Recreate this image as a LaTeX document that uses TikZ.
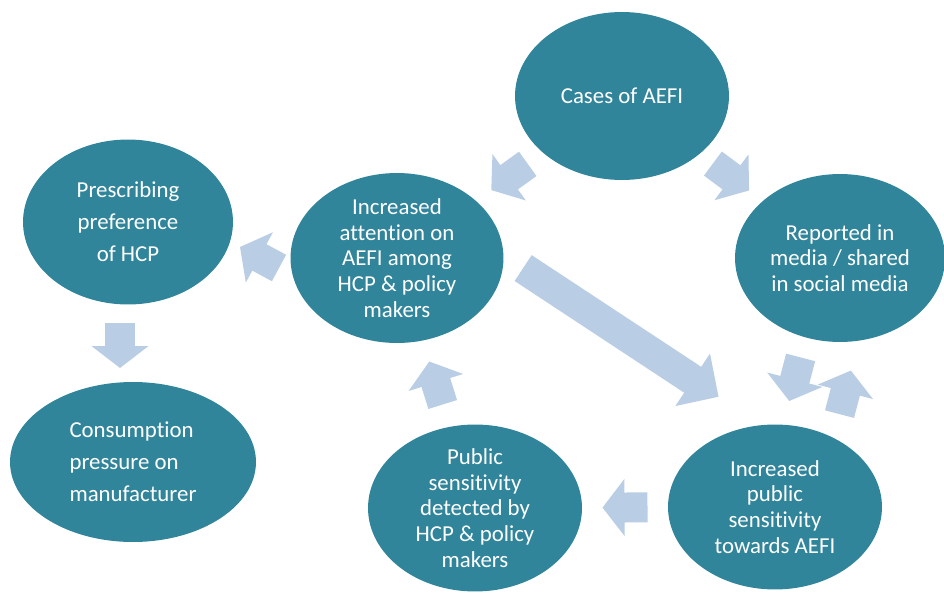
\documentclass[tikz,border=0pt]{standalone}
\usepackage{fontspec}
\setmainfont{Carlito}[Ligatures=NoCommon]
\usetikzlibrary{shapes.geometric,arrows.meta,calc}
\definecolor{aefiteal}{RGB}{49,133,155}
\definecolor{aefiarrow}{RGB}{185,205,229}
\begin{document}
\begin{tikzpicture}[x=0.02cm,y=-0.02cm,bubble/.style={shape=ellipse,fill=aefiteal,text=white,inner sep=-0.3cm,align=center,font=\fontsize{13}{14.7}\selectfont},bubbleL/.style={bubble,font=\fontsize{13}{18.2}\selectfont},blk/.style={draw=aefiarrow,line width=0.6cm,-{Triangle[width=1.12cm,length=0.44cm,fill=aefiarrow]}},blkB/.style={draw=aefiarrow,line width=0.62cm,-{Triangle[width=1.22cm,length=0.62cm,fill=aefiarrow]}}]
\useasboundingbox (0,0) rectangle (944,595);

\node[bubble,minimum width=4.28cm,minimum height=3.36cm] (cases) at (622,96) {Cases of AEFI};
\node[bubble,minimum width=4.2cm,minimum height=3.36cm] (rep) at (840,258) {Reported in\\media / shared\\in social media};
\node[bubble,minimum width=4.28cm,minimum height=3.3cm] (ips) at (775,507) {Increased\\public\\sensitivity\\towards AEFI};
\node[bubble,minimum width=4.28cm,minimum height=3.34cm] (det) at (475,508) {Public\\sensitivity\\detected by\\HCP \& policy\\makers};
\node[bubble,minimum width=4.26cm,minimum height=3.4cm] (attn) at (397,258) {Increased\\attention on\\AEFI among\\HCP \& policy\\makers};
\node[bubbleL,minimum width=4.2cm,minimum height=3.3cm] (presc) at (128,222) {Prescribing\\preference\\of HCP};
\node[bubbleL,align=left,minimum width=4.92cm,minimum height=3.2cm] (cons) at (133,462) {Consumption\\pressure on\\manufacturer};

% cycle arrows
\draw[blk] ($(cases)!0.419!(attn)$) -- ($(cases)!0.581!(attn)$);
\draw[blk] ($(cases)!0.417!(rep)$) -- ($(cases)!0.583!(rep)$);
\draw[blk] ($(rep)!0.4125!(ips)!0.26cm!-90:(ips)$) -- ($(rep)!0.5875!(ips)!0.26cm!-90:(ips)$);
\draw[blk] ($(ips)!0.4125!(rep)!0.78cm!-90:(rep)$) -- ($(ips)!0.5875!(rep)!0.78cm!-90:(rep)$);
\draw[blk] ($(ips)!0.425!(det)$) -- ($(ips)!0.575!(det)$);
\draw[blk] ($(det)!0.414!(attn)$) -- ($(det)!0.586!(attn)$);
\draw[blk] ($(attn)+(-118,10)$) -- ($(attn)+(-157,-11)$);
\draw[blk] ($(presc)+(-8,101)$) -- ($(presc)+(-8,146)$);

% long arrow
\draw[blkB] ($(attn)!0.245!(ips)!1.22cm!90:(ips)$) -- ($(attn)!0.762!(ips)!1.22cm!90:(ips)$);
\end{tikzpicture}
\end{document}
